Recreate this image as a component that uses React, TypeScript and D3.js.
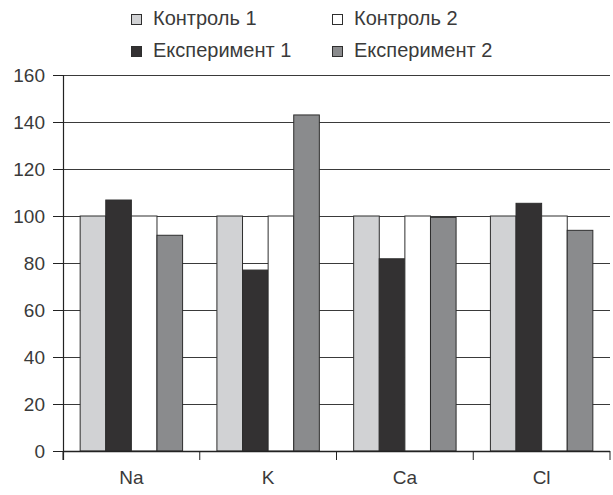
import React from "react";
import * as d3 from "d3";

const categories = ["Na", "K", "Ca", "Cl"];
const seriesNames = ["Контроль 1", "Експеримент 1", "Контроль 2", "Експеримент 2"];
const control1 = [100, 100, 100, 100];
const experiment1 = [106.8, 77, 81.8, 105.4];
const control2 = [100, 100, 100, 100];
const experiment2 = [91.8, 143, 99.4, 93.9];
const yTicks = [0, 20, 40, 60, 80, 100, 120, 140, 160];

const seriesValues = [control1, experiment1, control2, experiment2];
const colors = ["#d1d2d4", "#333132", "#ffffff", "#8a8b8d"];

const W = 613;
const H = 495;
const left = 63;
const right = 610;
const top = 75;
const bottom = 451;
const FONT = "'Liberation Sans', Arial, sans-serif";
const TXT = "#3a3a3a";

export default function App() {
  const x0 = d3.scaleBand<string>().domain(categories).range([left, right]).paddingInner(0).paddingOuter(0);
  const x1 = d3
    .scaleBand<string>()
    .domain(seriesNames)
    .range([0, x0.bandwidth()])
    .paddingInner(0)
    .paddingOuter(0.67);
  const y = d3.scaleLinear().domain([0, 160]).range([bottom, top]);

  const legend = [
    { name: "Контроль 1", color: colors[0], x: 131, y: 14 },
    { name: "Контроль 2", color: colors[2], x: 332, y: 14 },
    { name: "Експеримент 1", color: colors[1], x: 131, y: 46 },
    { name: "Експеримент 2", color: colors[3], x: 332, y: 46 },
  ];

  const boundaries = [...categories.map((c) => x0(c) as number), right];

  return (
    <svg
      width={W}
      height={H}
      style={{ position: "absolute", left: 0, top: 0, background: "#fff" }}
      fontFamily={FONT}
    >
      {yTicks.map((t) => (
        <line
          key={"g" + t}
          x1={left}
          x2={right}
          y1={Math.round(y(t)) + 0.5}
          y2={Math.round(y(t)) + 0.5}
          stroke="#3a3a3a"
          strokeWidth={1}
        />
      ))}
      {categories.map((c, ci) =>
        seriesNames.map((s, si) => {
          const v = seriesValues[si][ci];
          const bx = (x0(c) as number) + (x1(s) as number);
          return (
            <rect
              key={c + s}
              x={bx}
              y={y(v)}
              width={x1.bandwidth()}
              height={bottom - y(v)}
              fill={colors[si]}
              stroke="#2e2e2e"
              strokeWidth={1}
            />
          );
        })
      )}
      <line x1={left + 0.5} x2={left + 0.5} y1={top} y2={bottom + 9} stroke="#222" strokeWidth={1.2} />
      {yTicks.map((t) => (
        <g key={"t" + t}>
          <line
            x1={left - 10}
            x2={left}
            y1={Math.round(y(t)) + 0.5}
            y2={Math.round(y(t)) + 0.5}
            stroke="#222"
            strokeWidth={1}
          />
          <text x={left - 18} y={y(t) + 7} textAnchor="end" fontSize={19} fill={TXT}>
            {t}
          </text>
        </g>
      ))}
      <line x1={left} x2={right} y1={bottom + 0.5} y2={bottom + 0.5} stroke="#222" strokeWidth={1.5} />
      {boundaries.map((b, i) => (
        <line key={"b" + i} x1={b} x2={b} y1={bottom} y2={bottom + 9} stroke="#222" strokeWidth={1} />
      ))}
      {categories.map((c) => (
        <text
          key={"l" + c}
          x={(x0(c) as number) + x0.bandwidth() / 2}
          y={484}
          textAnchor="middle"
          fontSize={19}
          fill={TXT}
        >
          {c}
        </text>
      ))}
      {legend.map((l) => (
        <g key={l.name}>
          <rect x={l.x + 0.5} y={l.y + 0.5} width={10} height={10} fill={l.color} stroke="#2e2e2e" strokeWidth={1} />
          <text x={l.x + 22} y={l.y + 11} fontSize={20} fill={TXT}>
            {l.name}
          </text>
        </g>
      ))}
    </svg>
  );
}
